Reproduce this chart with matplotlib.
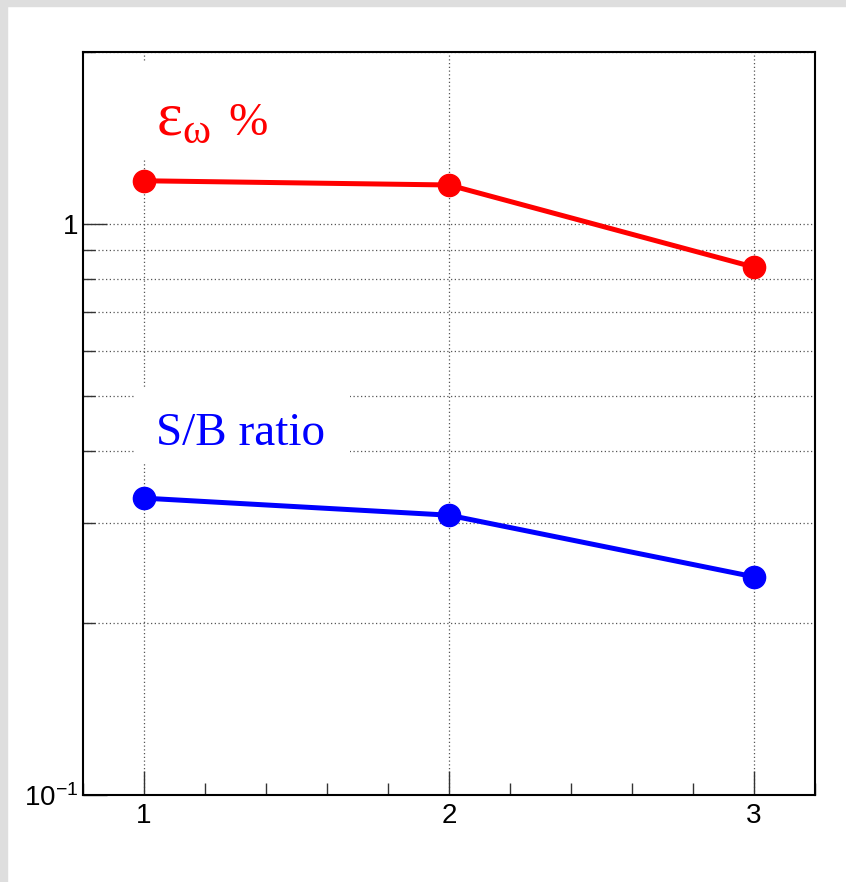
import matplotlib
matplotlib.use("Agg")
import matplotlib.pyplot as plt
from matplotlib.ticker import FixedLocator, FuncFormatter, MultipleLocator
from matplotlib.patches import Rectangle

plt.rcParams['font.family'] = ['Liberation Sans', 'DejaVu Sans']
plt.rcParams['mathtext.fontset'] = 'custom'
plt.rcParams['mathtext.rm'] = 'Liberation Serif'
plt.rcParams['mathtext.it'] = 'Liberation Serif:italic'
plt.rcParams['mathtext.sf'] = 'Liberation Sans'

# points per bin
bins = [1, 2, 3]
eff_omega = [1.19, 1.17, 0.84]
sb_ratio = [0.331, 0.309, 0.241]

fig = plt.figure(figsize=(8.46, 8.82), dpi=100)
# light grey canvas frame on the top and left edges
fig.patches.append(Rectangle((0, 0), 7 / 846, 1, transform=fig.transFigure,
                             color='#dedede', zorder=-5))
fig.patches.append(Rectangle((0, 1 - 6 / 882), 1, 6 / 882, transform=fig.transFigure,
                             color='#dedede', zorder=-5))

ax = fig.add_axes([83 / 846, 1 - 795 / 882, 732 / 846, 743 / 882])
ax.set_yscale('log')
ax.set_xlim(0.8, 3.2)
ax.set_ylim(0.1, 2.0)

ax.plot(bins, eff_omega, color='red', lw=3.6, marker='o', ms=16, zorder=4)
ax.plot(bins, sb_ratio, color='blue', lw=3.6, marker='o', ms=16, zorder=4)

# axes and ticks
ax.xaxis.set_major_locator(FixedLocator(bins))
ax.xaxis.set_minor_locator(MultipleLocator(0.2))
ax.yaxis.set_major_locator(FixedLocator([0.1, 1]))
ax.yaxis.set_minor_locator(FixedLocator([0.2, 0.3, 0.4, 0.5, 0.6, 0.7, 0.8, 0.9, 2.0]))
ax.yaxis.set_minor_formatter(FuncFormatter(lambda v, p: ''))
ax.yaxis.set_major_formatter(FuncFormatter(
    lambda v, p: '1' if abs(v - 1) < 1e-9 else r'$\mathdefault{10^{-1}}$'))
ax.xaxis.set_major_formatter(FuncFormatter(lambda v, p: f'{v:.0f}'))

ax.tick_params(which='both', direction='in', top=False, right=False,
               color='#333333', width=1.0, labelsize=20)
ax.tick_params(which='major', length=17)
ax.tick_params(which='minor', length=8.5)
ax.tick_params(axis='x', pad=6)
ax.tick_params(axis='y', pad=3.5)
for sp in ax.spines.values():
    sp.set_linewidth(1.5)

ax.set_axisbelow(True)
ax.grid(True, axis='x', which='major', ls=(0, (1, 2)), color='#555555', lw=0.9)
ax.grid(True, axis='y', which='both', ls=(0, (1, 2)), color='#555555', lw=0.9)

# white boxes behind the series labels
ax.add_patch(Rectangle((0.064, 0.857), 0.198, 0.1296, transform=ax.transAxes,
                       fc='white', ec='none', zorder=2.5))
ax.add_patch(Rectangle((0.0697, 0.4455), 0.2951, 0.1036, transform=ax.transAxes,
                       fc='white', ec='none', zorder=2.5))

# series labels
ax.text(1.04, 1.432, r'$\mathrm{\varepsilon_{\omega}}$', color='red',
        fontsize=44, va='baseline', zorder=3)
ax.text(1.275, 1.432, '%', color='red', family='Liberation Serif',
        fontsize=34, va='baseline', zorder=3)
ax.text(1.04, 0.41, 'S/B ratio', color='blue', family='Liberation Serif',
        fontsize=34, va='baseline', zorder=3)

fig.savefig('out.png', dpi=100)
